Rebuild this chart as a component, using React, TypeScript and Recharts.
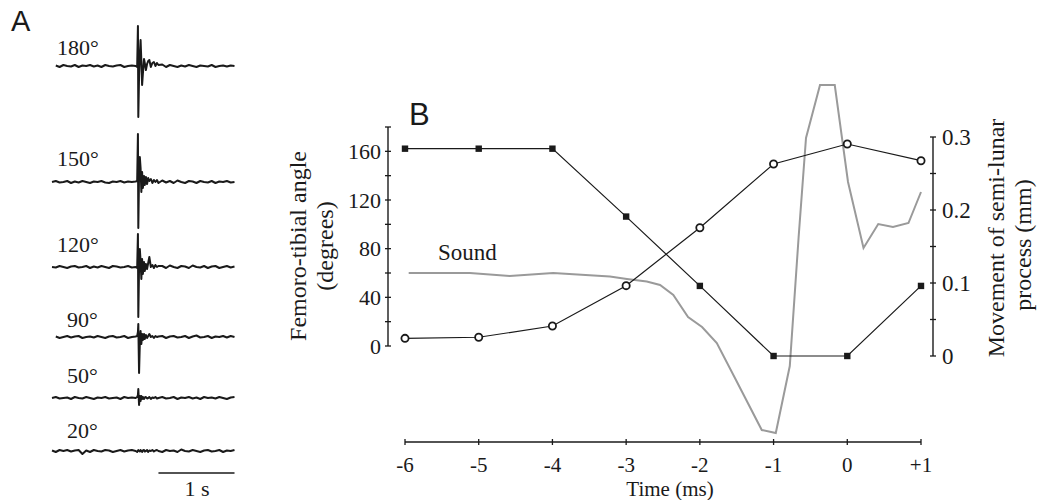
import React from 'react';
import { LineChart, Line, XAxis, YAxis, ReferenceLine } from 'recharts';

const SERIF = '"Liberation Serif", "Times New Roman", serif';
const SANS = '"Liberation Sans", Arial, sans-serif';
const INK = '#1a1a1a';
const GREY = '#9a9a9a';

// ---- panel A: recordings at different femoro-tibial angles ----
const TRACE_LABELS = ['180°', '150°', '120°', '90°', '50°', '20°'];

// time in s (finer around the click)
const TRACE_T = [
  0, 0.05, 0.1, 0.15, 0.2, 0.25, 0.3, 0.35, 0.4, 0.45, 0.5, 0.55, 0.6, 0.65, 0.7, 0.75, 0.8, 0.85, 0.9, 0.95, 1.0, 1.05,
  1.1, 1.12, 1.13, 1.135, 1.145, 1.155, 1.165, 1.175, 1.185, 1.195, 1.21, 1.22, 1.235, 1.25, 1.265, 1.28, 1.3, 1.32, 1.34, 1.36, 1.38, 1.4,
  1.45, 1.5, 1.55, 1.6, 1.65, 1.7, 1.75, 1.8, 1.85, 1.9, 1.95, 2.0, 2.05, 2.1, 2.15, 2.2, 2.25, 2.3, 2.35, 2.4,
];

const TRACE_180 = [
  null, 0.5, -1, 1, 0, -0.5, 1, -1, 0.5, 0, 1, -0.5, 0.5, -1, 1, 0, -0.5, 0.5, 1, -1, 0, 0.5,
  0, -1, 40, -51, -10, 12, 26, 5, -19, -8, 7, 3, -4, 2, 5, 6, -1, 3, 4, 0, 3, 1,
  1.5, -1, 1, 0, -1, 0.5, -0.5, 1, 0, -1, 0.5, 0, -0.5, 1, -1, 0, 0.5, -0.5, 0.5, 0,
];
const TRACE_150 = [
  0, 1, -0.5, 0, 1, -1, 0.5, -0.5, 1, 0, -1, 0.5, 0, 1, -0.5, -1, 0.5, 0, 1, -0.5, 0.5, 0,
  0.5, 1, 48, -46, 8, 25, 14, -10, 10, -6, 6, -3, 5, -2, 4, 1, 3, -1, 2, 0, 2, -1,
  1.5, -0.5, 1, -1, 1.5, 0, -1, 1, 0.5, -1, 1, 0, -0.5, 1, -1, 0.5, 0, 1, -0.5, 0,
];
const TRACE_120 = [
  0, -0.5, 1, 0, -1, 0.5, 1, -0.5, 0, 1, -1, 0.5, -0.5, 1, 0, -1, 1, 0.5, -0.5, 0, 1, -0.5,
  0, -1, 33, -50, 0, 18, 6, -12, 8, -7, 5, -4, 3, -2, 4, 10, 0, 2, -1, 2, 0, 1,
  1, -1, 1.5, 0, -1, 1, 0.5, -1, 1.5, 0, -0.5, 1, -1, 0.5, 1, -1, 0, 1, -0.5, 0.5,
];
const TRACE_90 = [
  null, 0.5, -1, 0, 1, -0.5, 0.5, 1, -1, 0, 0.5, -0.5, 1, 0, -1, 0.5, 1, -0.5, 0, 1, -1, 0,
  0.5, 1, 5, 13, -36, -6, 6, -7, 3, -3, 3, -2, 2, -1, 1, 3, 0, 1, -1, 1, 0, 0.5,
  1, -1, 0.5, 1, -0.5, 0, 1, -1, 0.5, 1.5, -0.5, 0, 1, -1, 0.5, 0, 1, -0.5, 1, 0,
];
const TRACE_50 = [
  0, 1, -0.5, 0, 0.5, -1, 1, 0, -0.5, 1, 0, -1, 0.5, 0, 1, -0.5, 0, 0.5, -1, 1, 0, 0.5,
  0, 1, 3, 9, -7, 2, -3, 2, -1, 1, -1, 0.5, 1, -0.5, 0, 1, -1, 0.5, 0, 1, -0.5, 0,
  1, -0.5, 0, 1, -1, 0.5, 0, 1, -0.5, 0.5, -1, 1, 0, 0.5, -0.5, 1, 0, -1, 0.5, 1,
];
const TRACE_20 = [
  0.5, -1, 1, 0, 1, -0.5, 0.5, 1, -3, 0.5, -1, 1, 0, -0.5, 1, 0.5, -1, 0, 1, -0.5, 0.5, 1,
  0, -1, 0.5, 1, 0, -0.5, 1, 0, -1, 0.5, 1, -0.5, 0, 1, -1, 0.5, 0, 1, -0.5, 0.5, 1, 0,
  -1, 1, 0, 0.5, -1, 1.5, 0, -0.5, 1, 0, -1, 0.5, 1, -0.5, 0, 1, -1, 0.5, 0, 1,
];
const TRACES = [TRACE_180, TRACE_150, TRACE_120, TRACE_90, TRACE_50, TRACE_20];
const SCALE_BAR_S = [1.4, 2.4];

// ---- panel B ----
const TIME_MS = [-6, -5, -4, -3, -2, -1, 0, 1];
const ANGLE_DEG = [6.3, 7.2, 16.4, 49.6, 97.2, 149.6, 166, 152.3];
const MOVEMENT_MM = [0.284, 0.284, 0.284, 0.191, 0.096, 0, 0, 0.096];

const SOUND_T = [-5.95, -5.12, -4.58, -3.99, -3.22, -2.99, -2.72, -2.54, -2.36, -2.16, -1.97, -1.77, -1.51, -1.16, -0.97, -0.78, -0.66, -0.56, -0.37, -0.17, 0.01, 0.22, 0.42, 0.62, 0.83, 1.0];
const SOUND_AMP = [0, 0, -0.3, 0, -0.35, -0.6, -0.85, -1.2, -2.2, -4.4, -5.4, -7.0, -10.7, -15.7, -16.0, -9.3, 3.6, 13.5, 18.8, 18.8, 9.1, 2.5, 4.9, 4.6, 5.0, 8.1];

const TIME_TICKS = [-6, -5, -4, -3, -2, -1, 0, 1];
const ANGLE_TICKS = [0, 20, 40, 60, 80, 100, 120, 140, 160, 180];
const ANGLE_LABELED = [0, 40, 80, 120, 160];
const MM_TICKS = [0, 0.05, 0.1, 0.15, 0.2, 0.25, 0.3];
const MM_LABELED = [0, 0.1, 0.2, 0.3];

// layout
const W = 1038;
const H = 500;
const TRACE_BASE_Y = [65.7, 181.7, 266.5, 336.5, 397.5, 451];
const TRACE_LABEL_XY = [[57, 55], [57, 166], [57, 252], [67, 327], [67, 383], [67, 438]];

const abs: React.CSSProperties = { position: 'absolute', left: 0, top: 0 };

function Trace({ values, baseY, bar }: { values: (number | null)[]; baseY: number; bar?: boolean }) {
  const rows = TRACE_T.map((t, i) => ({ t, v: values[i] }));
  return (
    <div style={{ position: 'absolute', left: 0, top: baseY - 60 }}>
      <LineChart width={260} height={120} data={rows} margin={{ top: 0, right: 25.5, bottom: 0, left: 52 }}>
        <XAxis dataKey="t" type="number" domain={[0, 2.4]} hide />
        <YAxis type="number" domain={[-60, 60]} hide />
        <Line dataKey="v" type="linear" stroke={INK} strokeWidth={2} strokeLinejoin="round" dot={false} isAnimationActive={false} />
        {bar && (
          <ReferenceLine
            segment={[{ x: SCALE_BAR_S[0], y: -22 }, { x: SCALE_BAR_S[1], y: -22 }]}
            stroke={INK}
            strokeWidth={1.4}
          />
        )}
      </LineChart>
    </div>
  );
}

function AngleTick(props: any) {
  const { x, y, payload } = props;
  const v = payload.value;
  return (
    <g>
      <line x1={x - 3} x2={x + 3} y1={y} y2={y} stroke={INK} strokeWidth={1.3} />
      {ANGLE_LABELED.includes(v) && (
        <text x={x - 7} y={y} dy="0.35em" textAnchor="end" fontFamily={SERIF} fontSize={22} fill={INK}>
          {v}
        </text>
      )}
    </g>
  );
}

function MmTick(props: any) {
  const { x, y, payload } = props;
  const v = payload.value;
  return (
    <g>
      <line x1={x - 3} x2={x + 3} y1={y} y2={y} stroke={INK} strokeWidth={1.3} />
      {MM_LABELED.includes(v) && (
        <text x={x + 9} y={y} dy="0.35em" textAnchor="start" fontFamily={SERIF} fontSize={23} fill={INK}>
          {String(v)}
        </text>
      )}
    </g>
  );
}

function TimeTick(props: any) {
  const { x, y, payload } = props;
  const v = payload.value;
  return (
    <g>
      <line x1={x} x2={x} y1={y - 3} y2={y + 3} stroke={INK} strokeWidth={1.3} />
      <text x={x} y={y + 30} textAnchor="middle" fontFamily={SERIF} fontSize={21} fill={INK}>
        {v > 0 ? `+${v}` : `${v}`}
      </text>
    </g>
  );
}

function renderSquare(p: any) {
  const { cx, cy, index } = p;
  if (cx == null || cy == null) return <g key={`sq-${index}`} />;
  return <rect key={`sq-${index}`} x={cx - 3.2} y={cy - 3.2} width={6.4} height={6.4} fill={INK} />;
}

export default function App() {
  const rowsB = TIME_MS.map((t, i) => ({ t, angle: ANGLE_DEG[i], mm: MOVEMENT_MM[i] }));
  const rowsSound = SOUND_T.map((t, i) => ({ t, amp: SOUND_AMP[i] }));
  const soundDomain = [Math.min(...SOUND_AMP), Math.max(...SOUND_AMP)];
  const axisLine = { stroke: INK, strokeWidth: 1.4 };

  return (
    <div style={{ position: 'absolute', left: 0, top: 0, width: W, height: H, overflow: 'hidden', background: '#fff' }}>
      {/* panel A */}
      {TRACES.map((vals, i) => (
        <Trace key={TRACE_LABELS[i]} values={vals} baseY={TRACE_BASE_Y[i]} bar={i === TRACES.length - 1} />
      ))}

      {/* panel B: time axis + sound */}
      <div style={abs}>
        <LineChart width={W} height={H} data={rowsSound} margin={{ top: 85, right: 117, bottom: 28, left: 405 }}>
          <XAxis
            dataKey="t"
            type="number"
            domain={[-6, 1]}
            ticks={TIME_TICKS}
            interval={0}
            height={30}
            tickSize={0}
            tickMargin={0}
            tickLine={false}
            axisLine={axisLine}
            tick={<TimeTick />}
          />
          <YAxis type="number" domain={soundDomain} padding={{ top: 0, bottom: 9 }} hide />
          <Line dataKey="amp" type="linear" stroke={GREY} strokeWidth={2} dot={false} isAnimationActive={false} />
        </LineChart>
      </div>

      {/* panel B: femoro-tibial angle (left axis) */}
      <div style={abs}>
        <LineChart width={W} height={H} data={rowsB} margin={{ top: 127, right: 105, bottom: 154, left: 328 }}>
          <XAxis dataKey="t" type="number" domain={[-6, 1]} padding={{ left: 17, right: 12 }} hide />
          <YAxis
            type="number"
            domain={[0, 180]}
            ticks={ANGLE_TICKS}
            interval={0}
            width={60}
            tickSize={0}
            tickMargin={0}
            tickLine={false}
            axisLine={axisLine}
            tick={<AngleTick />}
          />
          <Line
            dataKey="angle"
            type="linear"
            stroke={INK}
            strokeWidth={1.2}
            dot={{ r: 3.6, fill: '#fff', stroke: INK, strokeWidth: 1.8 }}
            isAnimationActive={false}
          />
        </LineChart>
      </div>

      {/* panel B: semi-lunar process movement (right axis) */}
      <div style={abs}>
        <LineChart width={W} height={H} data={rowsB} margin={{ top: 137, right: 45, bottom: 144, left: 388 }}>
          <XAxis dataKey="t" type="number" domain={[-6, 1]} padding={{ left: 17, right: 12 }} hide />
          <YAxis
            orientation="right"
            type="number"
            domain={[0, 0.3]}
            ticks={MM_TICKS}
            interval={0}
            width={60}
            tickSize={0}
            tickMargin={0}
            tickLine={false}
            axisLine={axisLine}
            tick={<MmTick />}
          />
          <Line dataKey="mm" type="linear" stroke={INK} strokeWidth={1.2} dot={renderSquare} isAnimationActive={false} />
        </LineChart>
      </div>

      {/* text */}
      <svg width={W} height={H} style={{ ...abs, pointerEvents: 'none' }}>
        <text x={11} y={31} fontFamily={SANS} fontSize={29} fill={INK}>A</text>
        <text x={409} y={125} fontFamily={SANS} fontSize={31} fill={INK}>B</text>
        {TRACE_LABELS.map((lab, i) => (
          <text key={lab} x={TRACE_LABEL_XY[i][0]} y={TRACE_LABEL_XY[i][1]} fontFamily={SERIF} fontSize={22} fill={INK}>
            {lab}
          </text>
        ))}
        <text x={197} y={496} textAnchor="middle" fontFamily={SERIF} fontSize={22} fill={INK}>1 s</text>
        <text x={438} y={260} fontFamily={SERIF} fontSize={23} fill={INK}>Sound</text>
        <text x={670} y={496} textAnchor="middle" fontFamily={SERIF} fontSize={21} fill={INK}>Time (ms)</text>
        <g fontFamily={SERIF} fontSize={24} fill={INK} textAnchor="middle">
          <text transform="translate(306,246) rotate(-90)">Femoro-tibial angle</text>
          <text transform="translate(333,246) rotate(-90)">(degrees)</text>
          <text transform="translate(1004,238) rotate(-90)">Movement of semi-lunar</text>
          <text transform="translate(1031,245) rotate(-90)">process (mm)</text>
        </g>
      </svg>
    </div>
  );
}
